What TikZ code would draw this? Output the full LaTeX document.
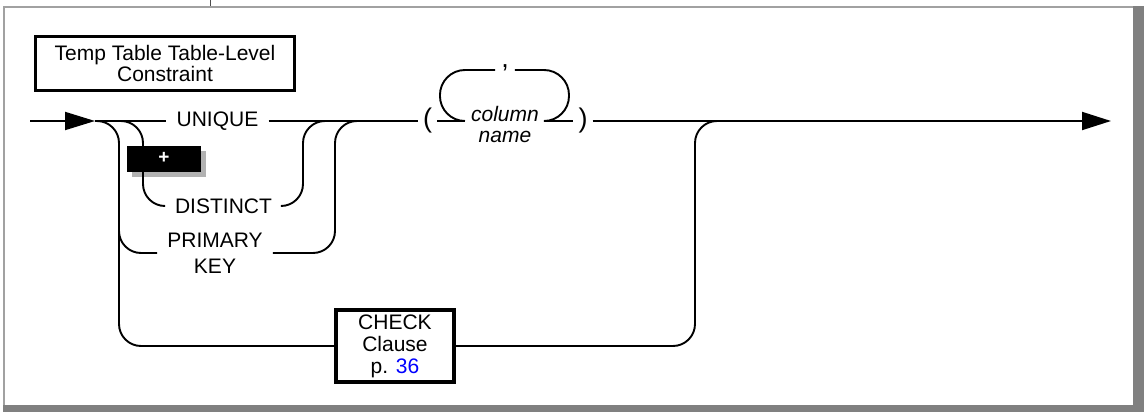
\documentclass[tikz,border=0pt]{standalone}
\usepackage{fontspec}
\setmainfont{Liberation Sans}
\usetikzlibrary{arrows.meta,shadows}
\newcommand{\kwfont}{\fontsize{21}{21}\selectfont}
\newcommand{\parenfont}{\fontsize{27}{27}\selectfont}
\newcommand{\plusfont}{\fontsize{19}{19}\selectfont\bfseries}

\begin{document}
\begin{tikzpicture}[x=1pt,y=-1pt,
    rail/.style={line width=1.9pt, rounded corners=22pt},
    kw/.style={font=\kwfont, inner xsep=10pt, inner ysep=1pt, align=center},
    refbox/.style={draw, line width=3.2pt, font=\kwfont, align=center, inner sep=0pt}]
    \useasboundingbox (0,0) rectangle (1146,412);
    % frame
    \fill[black!37] (3,6) rectangle (1144,8);
    \fill[black!37] (3,6) rectangle (5,412);
    \fill[black!50] (1133,6) rectangle (1144,412);
    \fill[black!50] (3,405) rectangle (1144,412);
    \draw[line width=1pt, black!70] (210.5,0) -- (210.5,6);

    \node[refbox, minimum width=259, minimum height=54] (title) at (165,63.5) {Temp Table Table-Level\\Constraint};

    \coordinate (entry) at (30,121);
    \coordinate (tip) at (95,121);
    \coordinate (jd) at (121,121);
    \coordinate (jp) at (119,228);
    \coordinate (jdr) at (327,121);
    \coordinate (jpr) at (359,121);
    \coordinate (jcr) at (717,121);
    \coordinate (exit) at (1111,121);

    \node[kw] (unique) at (217.5,121) {UNIQUE};
    \node[kw] (distinct) at (223.5,206) {DISTINCT};
    \node[kw] (primary) at (215,253) {PRIMARY\\[5pt]KEY};
    \node[refbox, minimum width=118, minimum height=72] (check) at (395,346) {CHECK\\[1pt]Clause\\[1pt]p. \textcolor{blue}{36}};
    \node[fill=black, text=white, font=\plusfont, minimum width=74, minimum height=26, inner sep=0pt,
        drop shadow={shadow xshift=5pt, shadow yshift=-5pt, fill=black!30, opacity=1}] (plus) at (164,159) {\raisebox{1.5pt}{+}};

    \node[font=\parenfont, inner xsep=5pt] (lparen) at (427.5,121) {(};
    \node[font=\parenfont, inner xsep=5pt] (rparen) at (583,121) {)};
    \node[font=\kwfont\itshape, anchor=base, inner xsep=6pt, inner ysep=0pt] (colname) at (505,121.5) {column};
    \node[font=\kwfont\itshape, anchor=base, inner sep=0pt] (colname2) at (505,142) {name};
    \node[font=\parenfont, text height=4pt, text depth=4pt, inner xsep=6pt] (comma) at (505,68) {,};

    % main line
    \draw[rail, -{Triangle[length=30pt,width=18pt]}] (entry) -- (tip);
    \draw[rail] (tip) -- (unique);
    \draw[rail] (unique) -- (lparen);
    \draw[rail] (lparen) -- (colname.west |- lparen);
    \draw[rail] (colname.east |- rparen) -- (rparen);
    \draw[rail, -{Triangle[length=29pt,width=18pt]}] (rparen) -- (exit);

    % repeat loop
    \draw[rail, rounded corners=25pt] (colname.west |- lparen) -- ++(-25,0) |- (comma.west |- 0,70);
    \draw[rail, rounded corners=25pt] (comma.east |- 0,70) -| (569,121) -- (colname.east |- rparen);

    % branches
    \draw[rail] (jd) -- (143,121) |- (distinct);
    \draw[rail] (distinct) -| (303,121) -- (jdr);
    \draw[rail] (tip) -| (119,346) -- (check);
    \draw[rail] (jp) |- (primary);
    \draw[rail] (primary) -| (335,121) -- (jpr);
    \draw[rail] (check) -| (695,121) -- (jcr);
\end{tikzpicture}
\end{document}
